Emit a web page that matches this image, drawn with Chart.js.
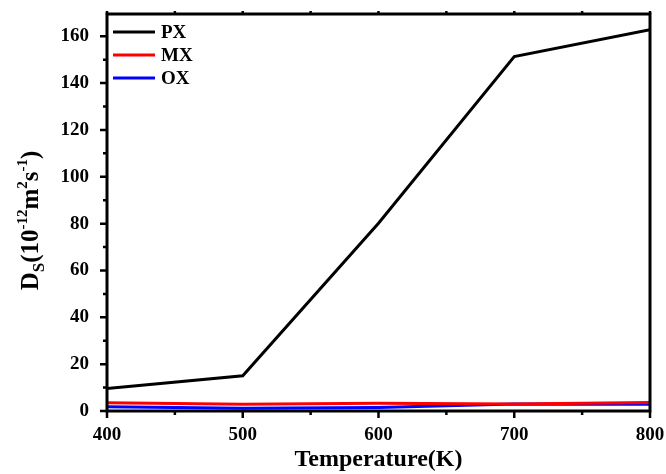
<!DOCTYPE html>
<html>
<head>
<meta charset="utf-8">
<script src="https://cdn.jsdelivr.net/npm/chart.js@4"></script>
<style>
  html, body { margin: 0; padding: 0; background: #fff; }
  #wrap { width: 666px; height: 474px; }
</style>
</head>
<body>
<div id="wrap"><canvas id="chart" width="666" height="474"></canvas></div>
<script>
const temps = [400, 500, 600, 700, 800];
const px = [9.6, 15.0, 80.2, 151.3, 162.8];
const mx = [3.5, 2.9, 3.3, 3.0, 3.6];
const ox = [1.8, 1.2, 1.5, 3.0, 2.9];
const seriesNames = ["PX", "MX", "OX"];
const seriesColors = ["#000000", "#ff0000", "#0000ff"];

const serif = "'Liberation Serif', 'Times New Roman', serif";

function toPoints(ys) {
  return temps.map((t, i) => ({ x: t, y: ys[i] }));
}

// frame, ticks (major + minor), legend and y title drawn with the chart's scales
const axesPlugin = {
  id: "axesPlugin",
  afterDraw(chart) {
    const ctx = chart.ctx;
    const a = chart.chartArea;
    const xs = chart.scales.x, ys = chart.scales.y;
    ctx.save();
    ctx.strokeStyle = "#000";
    ctx.lineWidth = 3;
    ctx.strokeRect(a.left, a.top, a.right - a.left, a.bottom - a.top);

    ctx.lineWidth = 2.5;
    ctx.beginPath();
    for (let v = 0; v <= 160; v += 10) {
      const y = ys.getPixelForValue(v);
      const len = v % 20 === 0 ? 7 : 4;
      ctx.moveTo(a.left, y); ctx.lineTo(a.left - len, y);
    }
    for (let v = 400; v <= 800; v += 50) {
      const x = xs.getPixelForValue(v);
      const len = v % 100 === 0 ? 7 : 4;
      ctx.moveTo(x, a.bottom); ctx.lineTo(x, a.bottom + len);
      ctx.moveTo(x, a.top); ctx.lineTo(x, a.top - 3);
    }
    ctx.stroke();

    // legend
    ctx.font = "bold 19px " + serif;
    ctx.textBaseline = "middle";
    chart.data.datasets.forEach((ds, i) => {
      const y = a.top + 18 + i * 23;
      ctx.strokeStyle = ds.borderColor;
      ctx.lineWidth = 3;
      ctx.beginPath();
      ctx.moveTo(a.left + 6, y); ctx.lineTo(a.left + 48, y);
      ctx.stroke();
      ctx.fillStyle = "#000";
      ctx.fillText(ds.label, a.left + 54, y + 1);
    });

    // y title: Ds(10^-12 m^2 s^-1)
    const cy = (a.top + a.bottom) / 2 + 8;
    ctx.translate(38, cy);
    ctx.rotate(-Math.PI / 2);
    const parts = [
      ["D", 25, 0], ["S", 17, 6], ["(10", 25, 0], ["-12", 15, -11],
      ["m", 25, 0], ["2", 15, -11], ["s", 25, 0], ["-1", 15, -11], [")", 25, 0]
    ];
    let total = 0;
    parts.forEach(p => { ctx.font = "bold " + p[1] + "px " + serif; total += ctx.measureText(p[0]).width; });
    let x = -total / 2;
    ctx.textBaseline = "alphabetic";
    ctx.fillStyle = "#000";
    parts.forEach(p => {
      ctx.font = "bold " + p[1] + "px " + serif;
      ctx.fillText(p[0], x, p[2]);
      x += ctx.measureText(p[0]).width;
    });
    ctx.restore();
  }
};

new Chart(document.getElementById("chart"), {
  type: "line",
  data: {
    datasets: [px, mx, ox].map((ys, i) => ({
      label: seriesNames[i],
      data: toPoints(ys),
      borderColor: seriesColors[i],
      backgroundColor: seriesColors[i],
      borderWidth: 3,
      pointRadius: 0,
      tension: 0
    }))
  },
  options: {
    responsive: false,
    animation: false,
    layout: { padding: { left: 0, right: 16, top: 14, bottom: 0 } },
    plugins: { legend: { display: false }, tooltip: { enabled: false } },
    scales: {
      x: {
        type: "linear",
        min: 400, max: 800,
        grid: { display: false },
        border: { display: false },
        ticks: {
          stepSize: 100,
          padding: 5,
          color: "#000",
          font: { family: serif, size: 19, weight: "bold" }
        },
        title: {
          display: true,
          text: "Temperature(K)",
          color: "#000",
          padding: { top: 0, bottom: 0 },
          font: { family: serif, size: 24, weight: "bold" }
        },
        afterFit(scale) {
          scale.height = 63;
          scale.paddingLeft = 0; scale.paddingRight = 0;
        }
      },
      y: {
        min: 0, max: 169.5,
        grid: { display: false },
        border: { display: false },
        ticks: {
          stepSize: 20,
          includeBounds: false,
          padding: 10,
          color: "#000",
          font: { family: serif, size: 19, weight: "bold" }
        },
        afterFit(scale) {
          scale.width = 107;
          scale.paddingTop = 0; scale.paddingBottom = 0;
        }
      }
    }
  },
  plugins: [axesPlugin]
});
</script>
</body>
</html>
